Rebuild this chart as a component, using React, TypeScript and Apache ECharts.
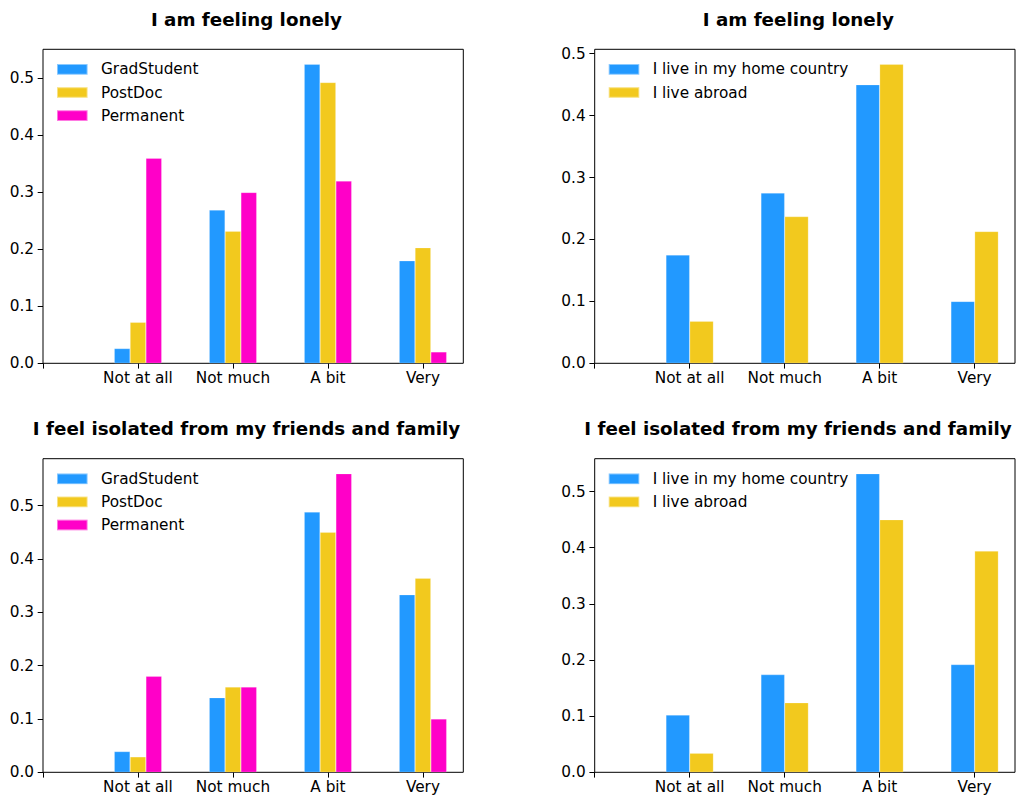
import React, { useEffect, useRef } from 'react';
import * as echarts from 'echarts';

// ---------- data ----------
const categories = ['Not at all', 'Not much', 'A bit', 'Very'];
const categoryPositions = [1, 2, 3, 4];
const xTickValues = [0, 1, 2, 3, 4];
const yTickValues = [0, 0.1, 0.2, 0.3, 0.4, 0.5];

const positionNames = ['GradStudent', 'PostDoc', 'Permanent'];
const residenceNames = ['I live in my home country', 'I live abroad'];

const lonelyGrad = [0.026, 0.269, 0.525, 0.18];
const lonelyPostDoc = [0.072, 0.232, 0.493, 0.203];
const lonelyPermanent = [0.36, 0.3, 0.32, 0.02];

const lonelyHome = [0.175, 0.275, 0.45, 0.1];
const lonelyAbroad = [0.068, 0.237, 0.483, 0.213];

const isolatedGrad = [0.039, 0.14, 0.488, 0.333];
const isolatedPostDoc = [0.029, 0.16, 0.45, 0.364];
const isolatedPermanent = [0.18, 0.16, 0.56, 0.1];

const isolatedHome = [0.102, 0.174, 0.532, 0.192];
const isolatedAbroad = [0.034, 0.124, 0.45, 0.394];

const titleLonely = 'I am feeling lonely';
const titleIsolated = 'I feel isolated from my friends and family';

// ---------- styles ----------
const BLUE = '#2299ff';
const YELLOW = '#f2c91e';
const MAGENTA = '#ff00c8';
const FONT = 'DejaVu Sans';

const panels = [
  {
    title: titleLonely,
    names: positionNames,
    values: [lonelyGrad, lonelyPostDoc, lonelyPermanent],
    colors: [BLUE, YELLOW, MAGENTA],
    grid: { left: 43, top: 49.3, width: 420.3, height: 314 },
    titlePos: { x: 246.5, y: 19.4 },
  },
  {
    title: titleLonely,
    names: residenceNames,
    values: [lonelyHome, lonelyAbroad],
    colors: [BLUE, YELLOW],
    grid: { left: 594.7, top: 49.3, width: 420.3, height: 314 },
    titlePos: { x: 798.3, y: 19.4 },
  },
  {
    title: titleIsolated,
    names: positionNames,
    values: [isolatedGrad, isolatedPostDoc, isolatedPermanent],
    colors: [BLUE, YELLOW, MAGENTA],
    grid: { left: 43, top: 458.7, width: 420.3, height: 313.6 },
    titlePos: { x: 246.5, y: 428.8 },
  },
  {
    title: titleIsolated,
    names: residenceNames,
    values: [isolatedHome, isolatedAbroad],
    colors: [BLUE, YELLOW],
    grid: { left: 594.7, top: 458.7, width: 420.3, height: 313.6 },
    titlePos: { x: 798.0, y: 428.8 },
  },
];

function buildOption() {
  const grid: any[] = [];
  const xAxis: any[] = [];
  const yAxis: any[] = [];
  const legend: any[] = [];
  const series: any[] = [];
  const graphic: any[] = [];

  panels.forEach((p, i) => {
    grid.push({
      ...p.grid,
      show: true,
      borderColor: '#000',
      borderWidth: 1,
      backgroundColor: 'transparent',
      containLabel: false,
      outerBoundsMode: 'none',
    });
    const maxVal = Math.max(...p.values.flat()) * 1.05;
    xAxis.push({
      type: 'value',
      gridIndex: i,
      min: 0,
      max: 4.425,
      interval: 1,
      axisLine: { show: false },
      splitLine: { show: false },
      axisTick: {
        show: true,
        length: 5.3,
        customValues: xTickValues,
        lineStyle: { color: '#000', width: 1 },
      },
      axisLabel: {
        show: true,
        customValues: categoryPositions,
        margin: 7.5,
        color: '#000',
        fontFamily: FONT,
        fontSize: 15.3,
        formatter: (v: number) => {
          const idx = categoryPositions.indexOf(Math.round(v));
          return idx >= 0 ? categories[idx] : '';
        },
      },
    });
    yAxis.push({
      type: 'value',
      gridIndex: i,
      min: 0,
      max: maxVal,
      axisLine: { show: false },
      splitLine: { show: false },
      axisTick: {
        show: true,
        length: 5.3,
        customValues: yTickValues,
        lineStyle: { color: '#000', width: 1 },
      },
      axisLabel: {
        show: true,
        customValues: yTickValues,
        margin: 9,
        color: '#000',
        fontFamily: FONT,
        fontSize: 15.3,
        formatter: (v: number) => v.toFixed(1),
      },
    });
    legend.push({
      show: true,
      orient: 'vertical',
      left: p.grid.left + 13,
      top: p.grid.top + 12.6,
      padding: 0,
      icon: 'rect',
      itemWidth: 30.6,
      itemHeight: 10.7,
      itemGap: 8.1,
      selectedMode: false,
      data: p.names,
      textStyle: {
        fontFamily: FONT,
        fontSize: 15.3,
        color: '#000',
        padding: [0, 0, 0, 8.4],
      },
    });
    const n = p.names.length;
    p.names.forEach((name, k) => {
      series.push({
        type: 'bar',
        name,
        xAxisIndex: i,
        yAxisIndex: i,
        barWidth: (50 / n) + '%',
        barGap: '0%',
        itemStyle: {
          color: p.colors[k],
          borderColor: 'rgba(255,255,255,0.45)',
          borderWidth: 0.5,
        },
        emphasis: { disabled: true },
        data: p.values[k].map((v, j) => [categoryPositions[j], v]),
      });
    });
    graphic.push({
      type: 'text',
      x: p.titlePos.x,
      y: p.titlePos.y,
      style: {
        text: p.title,
        font: `bold 18.3px "${FONT}"`,
        fill: '#000',
        align: 'center',
        verticalAlign: 'middle',
        textAlign: 'center',
        textVerticalAlign: 'middle',
      },
    });
  });

  return {
    animation: false,
    backgroundColor: '#fff',
    textStyle: { fontFamily: FONT },
    grid,
    xAxis,
    yAxis,
    legend,
    series,
    graphic,
  };
}

export default function App() {
  const ref = useRef<HTMLDivElement>(null);
  useEffect(() => {
    document.body.style.margin = '0';
    if (!ref.current) return;
    const chart = echarts.init(ref.current, undefined, { renderer: 'svg' });
    chart.setOption(buildOption() as any);
    return () => {
      chart.dispose();
    };
  }, []);
  return <div ref={ref} style={{ width: 1016, height: 798 }} />;
}
